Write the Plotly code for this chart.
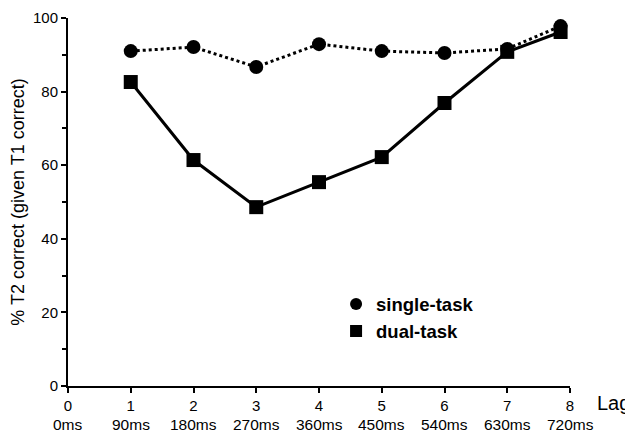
import plotly.graph_objects as go

lag = [1, 2, 3, 4, 5, 6, 7, 7.85]
single_task = [91.0, 92.1, 86.7, 92.9, 91.0, 90.5, 91.6, 97.8]
dual_task = [82.6, 61.4, 48.6, 55.4, 62.2, 76.9, 90.8, 96.2]

tick_vals = [0, 1, 2, 3, 4, 5, 6, 7, 8]
tick_lag = ["0", "1", "2", "3", "4", "5", "6", "7", "8"]
tick_ms = ["0ms", "90ms", "180ms", "270ms", "360ms", "450ms", "540ms", "630ms", "720ms"]

FONT = "Liberation Sans, Arial, Helvetica, sans-serif"

fig = go.Figure()
fig.add_trace(go.Scatter(
    x=lag, y=single_task, mode="lines+markers", showlegend=False,
    line=dict(color="black", width=3, dash="dot"),
    marker=dict(symbol="circle", size=14, color="black"),
    cliponaxis=False))
fig.add_trace(go.Scatter(
    x=lag, y=dual_task, mode="lines+markers", showlegend=False,
    line=dict(color="black", width=3),
    marker=dict(symbol="square", size=14, color="black"),
    cliponaxis=False))
# legend entries (markers only)
fig.add_trace(go.Scatter(x=[None], y=[None], mode="markers", name="single-task",
                         marker=dict(symbol="circle", size=12, color="black")))
fig.add_trace(go.Scatter(x=[None], y=[None], mode="markers", name="dual-task",
                         marker=dict(symbol="square", size=12, color="black")))

for xv, ms in zip(tick_vals, tick_ms):
    fig.add_annotation(x=xv, y=0, xref="x", yref="paper", yshift=-38,
                       text=ms, showarrow=False, font=dict(size=15.5, color="black", family=FONT),
                       xanchor="center", yanchor="middle")
fig.add_annotation(x=8, y=0, xref="x", yref="paper", xshift=25, yshift=-17,
                   text="Lag", showarrow=False, font=dict(size=20, color="black", family=FONT),
                   xanchor="left", yanchor="middle")

# The page body has an 8px margin, so the figure is 8px smaller than the window
fig.update_layout(
    width=625, height=425,
    margin=dict(l=60, r=63, t=10, b=47),
    paper_bgcolor="white", plot_bgcolor="white",
    font=dict(family=FONT, color="black"),
    legend=dict(x=0.534, y=0.185, xanchor="left", yanchor="middle",
                font=dict(size=18.5, family=FONT, weight="bold"),
                itemwidth=30, bgcolor="rgba(0,0,0,0)", tracegroupgap=0),
    xaxis=dict(range=[0, 8], tickvals=tick_vals, ticktext=tick_lag, automargin=False,
               showgrid=False, zeroline=False, showline=True, linecolor="black",
               linewidth=2, ticks="outside", ticklen=5, tickwidth=2, tickcolor="black",
               tickfont=dict(size=15, color="black")),
    yaxis=dict(range=[0, 100], tickvals=[0, 20, 40, 60, 80, 100], automargin=False,
               showgrid=False, zeroline=False, showline=True, linecolor="black",
               linewidth=2, ticks="outside", ticklen=5, tickwidth=2, tickcolor="black",
               tickfont=dict(size=15, color="black"),
               minor=dict(tickvals=[10, 30, 50, 70, 90], ticks="outside", ticklen=4,
                          tickwidth=2, tickcolor="black"),
               title=dict(text="% T2 correct (given T1 correct)", font=dict(size=18, color="black"),
                          standoff=4)),
)

fig.write_html("out.html")
